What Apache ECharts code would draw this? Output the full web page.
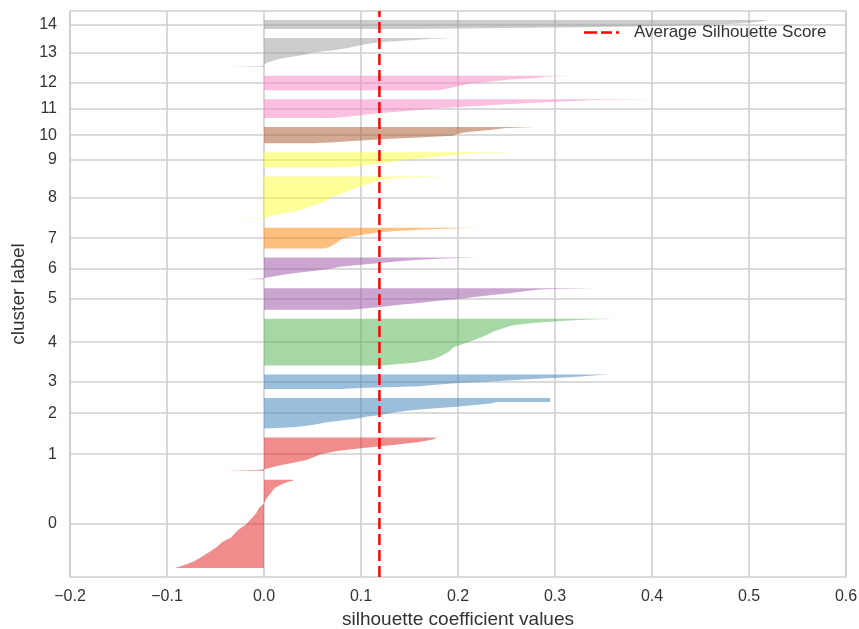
<!DOCTYPE html>
<html>
<head>
<meta charset="utf-8">
<script src="https://cdn.jsdelivr.net/npm/echarts@6/dist/echarts.min.js"></script>
<style>html,body{margin:0;padding:0;background:#fff;}#chart{width:859px;height:629px;}</style>
</head>
<body>
<div id="chart"></div>
<script>
// ---- data ----
const clusterLabels = ['0','1','2','3','4','5','6','7','8','9','10','11','12','13','14'];
const clusterSizes  = [98, 37, 34, 16, 52, 24, 24, 23, 47, 17, 18, 21, 16, 32, 10];
const avgScore = 0.119;
// sorted silhouette profile per cluster: [rank within cluster (from bottom), value]
const s0  = [[0,-0.092],[3,-0.083],[7,-0.073],[12,-0.065],[18,-0.056],[23,-0.049],[29,-0.043],[34,-0.034],[42,-0.027],[48,-0.019],[56,-0.012],[61,-0.008],[67,-0.005],[72,0.0],[78,0.003],[83,0.007],[89,0.011],[93,0.018],[96,0.026],[97,0.03],[98,0.03]];
const s1  = [[0,-0.038],[1,-0.008],[2,0.002],[5,0.012],[9,0.03],[12,0.044],[18,0.058],[22,0.075],[25,0.1],[29,0.135],[32,0.16],[35,0.175],[37,0.178]];
const s2  = [[0,0.0],[1,0.02],[2,0.035],[4,0.05],[7,0.065],[9,0.08],[11,0.095],[13,0.105],[15,0.12],[18,0.135],[20,0.15],[22,0.17],[24,0.195],[26,0.215],[28,0.235],[29.5,0.24],[29.6,0.295],[34,0.295]];
const s3  = [[0,0.08],[1,0.1],[2,0.125],[3,0.16],[5,0.18],[7,0.205],[8,0.23],[10,0.26],[12,0.29],[13,0.315],[15,0.34],[16,0.355]];
const s4  = [[0,0.12],[1,0.13],[3,0.155],[7,0.175],[11,0.183],[15,0.19],[20,0.195],[24,0.205],[29,0.218],[33,0.228],[38,0.237],[42,0.248],[45,0.258],[47.5,0.28],[50,0.314],[51,0.33],[52,0.36]];
const s5  = [[0,0.09],[1,0.1],[3,0.12],[5.5,0.14],[7.5,0.16],[10,0.18],[12,0.2],[14,0.215],[16.5,0.235],[18.5,0.255],[20.5,0.268],[22.5,0.285],[23,0.3],[24,0.34]];
const s6  = [[0,-0.018],[1,0.0],[2,0.005],[5,0.02],[7,0.035],[9,0.05],[11,0.065],[14,0.08],[16,0.1],[18,0.12],[20.5,0.145],[21.5,0.16],[23,0.185],[24,0.22]];
const s7  = [[0,0.062],[2,0.068],[5,0.073],[8,0.077],[11,0.081],[13,0.09],[15,0.1],[17.5,0.115],[19.5,0.135],[21.5,0.17],[23,0.218]];
const s8  = [[0,-0.027],[1,0.0],[3,0.006],[6,0.02],[9,0.035],[14.5,0.05],[20,0.065],[24.5,0.07],[29,0.083],[33.5,0.093],[37,0.102],[40,0.112],[43.5,0.12],[45,0.13],[46,0.155],[47,0.19]];
const s9  = [[0,0.07],[1,0.09],[2,0.1],[4.5,0.12],[7,0.135],[9,0.15],[11,0.165],[13.5,0.19],[16,0.22],[17,0.262]];
const s10 = [[0,0.05],[1,0.068],[3,0.1],[5,0.13],[6.5,0.16],[8.5,0.195],[10.5,0.2],[12.5,0.21],[14.5,0.23],[17,0.25],[18,0.28]];
const s11 = [[0,0.07],[2,0.09],[4.5,0.11],[6.5,0.13],[9,0.16],[11,0.18],[13,0.21],[15.5,0.25],[17.5,0.29],[19,0.32],[20,0.34],[21,0.405]];
const s12 = [[0,0.18],[2,0.19],[4.5,0.2],[7,0.21],[9,0.23],[11.5,0.25],[13.5,0.28],[15,0.29],[16,0.317]];
const s13 = [[0,-0.036],[1,-0.004],[2,0.0],[4.5,0.003],[7,0.01],[9,0.016],[11.5,0.03],[13.5,0.042],[16,0.05],[18,0.07],[20.5,0.085],[23,0.095],[25,0.105],[27.5,0.12],[29.5,0.15],[31,0.17],[32,0.195]];
const s14 = [[0,0.15],[1,0.25],[2,0.33],[3,0.4],[4,0.44],[5,0.47],[6,0.49],[7,0.5],[8,0.51],[9,0.515],[10,0.52]];
const profiles = [s0,s1,s2,s3,s4,s5,s6,s7,s8,s9,s10,s11,s12,s13,s14];

// ---- styling ----
const SET1 = {red:'#e41a1c', blue:'#377eb8', green:'#4daf4a', purple:'#984ea3', orange:'#ff7f00',
              yellow:'#ffff33', brown:'#a65628', pink:'#f781bf', gray:'#999999'};
const clusterColors = [SET1.red,SET1.red,SET1.blue,SET1.blue,SET1.green,SET1.purple,SET1.purple,
                       SET1.orange,SET1.yellow,SET1.yellow,SET1.brown,SET1.pink,SET1.pink,SET1.gray,SET1.gray];

// silhouette layout: gap of 10 samples between clusters
const GAP = 10;
const yLower = [];
let acc = GAP;
clusterSizes.forEach(function (s) { yLower.push(acc); acc += s + GAP; });
const yMax = acc;
const yCenters = clusterSizes.map(function (s, i) { return yLower[i] + s / 2; });

const FONT = 'Liberation Sans, Arial, sans-serif';
const TXT = '#333333';
const GRID = '#cfcfcf';
const DASH_ICON = 'path://M0,0H13V2.5H0Z M17,0H28V2.5H17Z M32,0H35V2.5H32Z';

const chart = echarts.init(document.getElementById('chart'), null, {renderer: 'canvas'});
chart.setOption({
  animation: false,
  backgroundColor: '#ffffff',
  grid: {left: 70, right: 13, top: 11, bottom: 52, show: true, borderColor: GRID, borderWidth: 1.6,
         containLabel: false, outerBoundsMode: 'none'},
  legend: {
    data: [{name: 'Average Silhouette Score', icon: DASH_ICON}],
    left: 584, top: 24, padding: 0,
    itemWidth: 35, itemHeight: 2.5,
    textStyle: {fontFamily: FONT, fontSize: 17, color: TXT, padding: [0, 0, 0, 10]}
  },
  xAxis: {
    type: 'value', min: -0.2, max: 0.6, interval: 0.1,
    name: 'silhouette coefficient values', nameLocation: 'middle', nameGap: 31,
    nameTextStyle: {fontFamily: FONT, fontSize: 19, color: TXT},
    axisLine: {show: false}, axisTick: {show: false},
    axisLabel: {fontFamily: FONT, fontSize: 16, color: TXT, margin: 12,
      formatter: function (v) { return (v < -1e-9 ? '\u2212' : '') + Math.abs(v).toFixed(1); }},
    splitLine: {show: true, lineStyle: {color: GRID, width: 1.6}}
  },
  yAxis: {
    type: 'value', min: 0, max: yMax,
    name: 'cluster label', nameLocation: 'middle', nameGap: 36,
    nameTextStyle: {fontFamily: FONT, fontSize: 19, color: TXT},
    axisLine: {show: false},
    axisTick: {show: false, customValues: yCenters},
    axisLabel: {fontFamily: FONT, fontSize: 16, color: TXT, margin: 13, customValues: yCenters,
      formatter: function (v) {
        for (let i = 0; i < yCenters.length; i++) { if (Math.abs(yCenters[i] - v) < 1e-6) return clusterLabels[i]; }
        return '';
      }},
    splitLine: {show: true, lineStyle: {color: GRID, width: 1.6}}
  },
  series: [
    {
      type: 'custom',
      name: 'silhouettes',
      clip: true,
      silent: true,
      data: clusterSizes.map(function (s, i) { return [0, yLower[i]]; }),
      encode: {x: 0, y: 1},
      renderItem: function (params, api) {
        const i = params.dataIndex;
        const base = yLower[i];
        const pts = [api.coord([0, base])];
        profiles[i].forEach(function (p) { pts.push(api.coord([p[1], base + p[0]])); });
        pts.push(api.coord([0, base + clusterSizes[i]]));
        return {
          type: 'polygon',
          shape: {points: pts},
          style: {fill: clusterColors[i], opacity: 0.5, stroke: null}
        };
      },
      z: 2
    },
    {
      type: 'line',
      name: 'Average Silhouette Score',
      data: [[avgScore, 0], [avgScore, yMax]],
      symbol: 'none', showSymbol: false,
      lineStyle: {color: '#ff0000', width: 2.5, type: [11, 5]},
      itemStyle: {color: '#ff0000'},
      z: 5
    }
  ]
});
</script>
</body>
</html>
